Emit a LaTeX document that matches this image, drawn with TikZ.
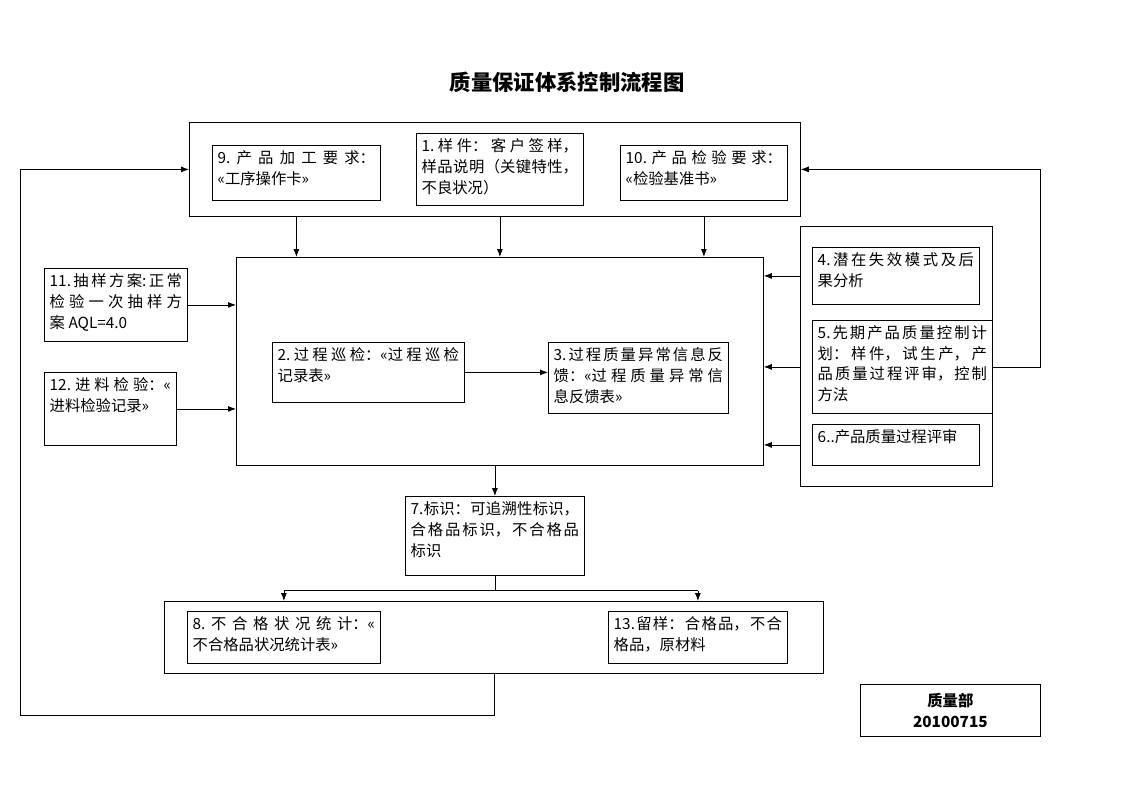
\documentclass[tikz,border=0pt]{standalone}
\usepackage{fontspec}
\setmainfont{Noto Sans CJK SC}
\usetikzlibrary{arrows.meta}

\XeTeXlinebreaklocale "zh"
\XeTeXlinebreakskip=0pt plus 4pt

\newdimen\pxu \pxu=0.75pt
% text block of a box, given in pixels, top aligned
\newcommand{\cell}[3]{\parbox[c][\dimexpr#2\pxu-8pt\relax][t]{\dimexpr#1\pxu-8pt\relax}{\tolerance=10000 #3}}

\tikzset{
    box/.style={draw, anchor=north west, inner sep=4pt, font=\fontsize{11.5}{15.5}\selectfont},
    frame/.style={draw, anchor=north west, inner sep=0pt},
    wh/.style 2 args={minimum width=#1*0.75pt, minimum height=#2*0.75pt}
}

\begin{document}
\begin{tikzpicture}[x=0.75pt, y=-0.75pt, >={Latex[length=6pt,width=4.5pt]}, line width=0.6pt]
    \useasboundingbox (0,0) rectangle (1122,793);

    \node[font=\bfseries\fontsize{16}{19}\selectfont] (title) at (567,82) {质量保证体系控制流程图};

    % inputs
    \node[frame, wh={611}{94}] (top) at (189,122) {};
    \node[box] (b9) at (212,145) {\cell{168}{55}{9.产品加工要求：\linebreak «工序操作卡»}};
    \node[box] (b1) at (416,133) {\cell{167}{72}{1.样件：客户签样，\linebreak 样品说明（关键特性，\linebreak 不良状况）}};
    \node[box] (b10) at (620,145) {\cell{167}{55}{10.产品检验要求：\linebreak «检验基准书»}};

    % process
    \node[frame, wh={527}{208}] (main) at (236,257) {};
    \node[box] (b11) at (44,268) {\cell{143}{73}{11.抽样方案:正常\linebreak 检验一次抽样方\linebreak 案 AQL=4.0}};
    \node[box] (b12) at (44,372) {\cell{132}{73}{12.进料检验：«\linebreak 进料检验记录»}};
    \node[box] (b2) at (272,342) {\cell{192}{60}{2.过程巡检：«过程巡检\linebreak 记录表»}};
    \node[box] (b3) at (548,342) {\cell{180}{71}{3.过程质量异常信息反\linebreak 馈：«过程质量异常信\linebreak 息反馈表»}};

    % planning
    \node[frame, wh={192}{260}] (rgt) at (800,226) {};
    \node[box] (b4) at (812,247) {\cell{167}{57}{4.潜在失效模式及后\linebreak 果分析}};
    \node[box] (b5) at (812,320) {\cell{180}{93}{5.先期产品质量控制计\linebreak 划：样件，试生产，产\linebreak 品质量过程评审，控制\linebreak 方法}};
    \node[box] (b6) at (812,424) {\cell{167}{41}{6..产品质量过程评审}};

    % output
    \node[box] (b7) at (405,496) {\cell{179}{79}{7.标识：可追溯性标识，\linebreak 合格品标识，不合格品\linebreak 标识}};
    \node[frame, wh={659}{72}] (bot) at (164,601) {};
    \node[box] (b8) at (187,611) {\cell{193}{52}{8.不合格状况统计：«\linebreak 不合格品状况统计表»}};
    \node[box] (b13) at (608,611) {\cell{179}{52}{13.留样：合格品，不合\linebreak 格品，原材料}};

    \node[frame, wh={180}{52}, align=center, font=\bfseries\fontsize{11.5}{16}\selectfont] (dept) at (860,684) {质量部\\20100715};

    \coordinate (back) at (20,715);

    \draw[->] (b9 |- top.south) -- (b9 |- main.north);
    \draw[->] (b1 |- top.south) -- (b1 |- main.north);
    \draw[->] (b10 |- top.south) -- (b10 |- main.north);
    \draw[->] (b11.east) -- (b11.east -| main.west);
    \draw[->] (b12.east) -- (b12.east -| main.west);
    \draw[->] (b2.east) -- (b2.east -| b3.west);
    \draw[->] (b4 -| rgt.west) -- (b4 -| main.east);
    \draw[->] (b5 -| rgt.west) -- (b5 -| main.east);
    \draw[->] (b6 -| rgt.west) -- (b6 -| main.east);
    \draw[->] (b5.east) -- ++(48,0) |- (top.east);
    \draw[->] (main.south -| b7) -- (b7.north);
    \draw (b7.south) -- ++(0,15) coordinate (split);
    \draw (split -| b8) -- (split -| b13);
    \draw[->] (split -| b8) -- (b8 |- bot.north);
    \draw[->] (split -| b13) -- (b13 |- bot.north);
    \draw[->] (bot.south) |- (back) |- (top.west);
\end{tikzpicture}
\end{document}
